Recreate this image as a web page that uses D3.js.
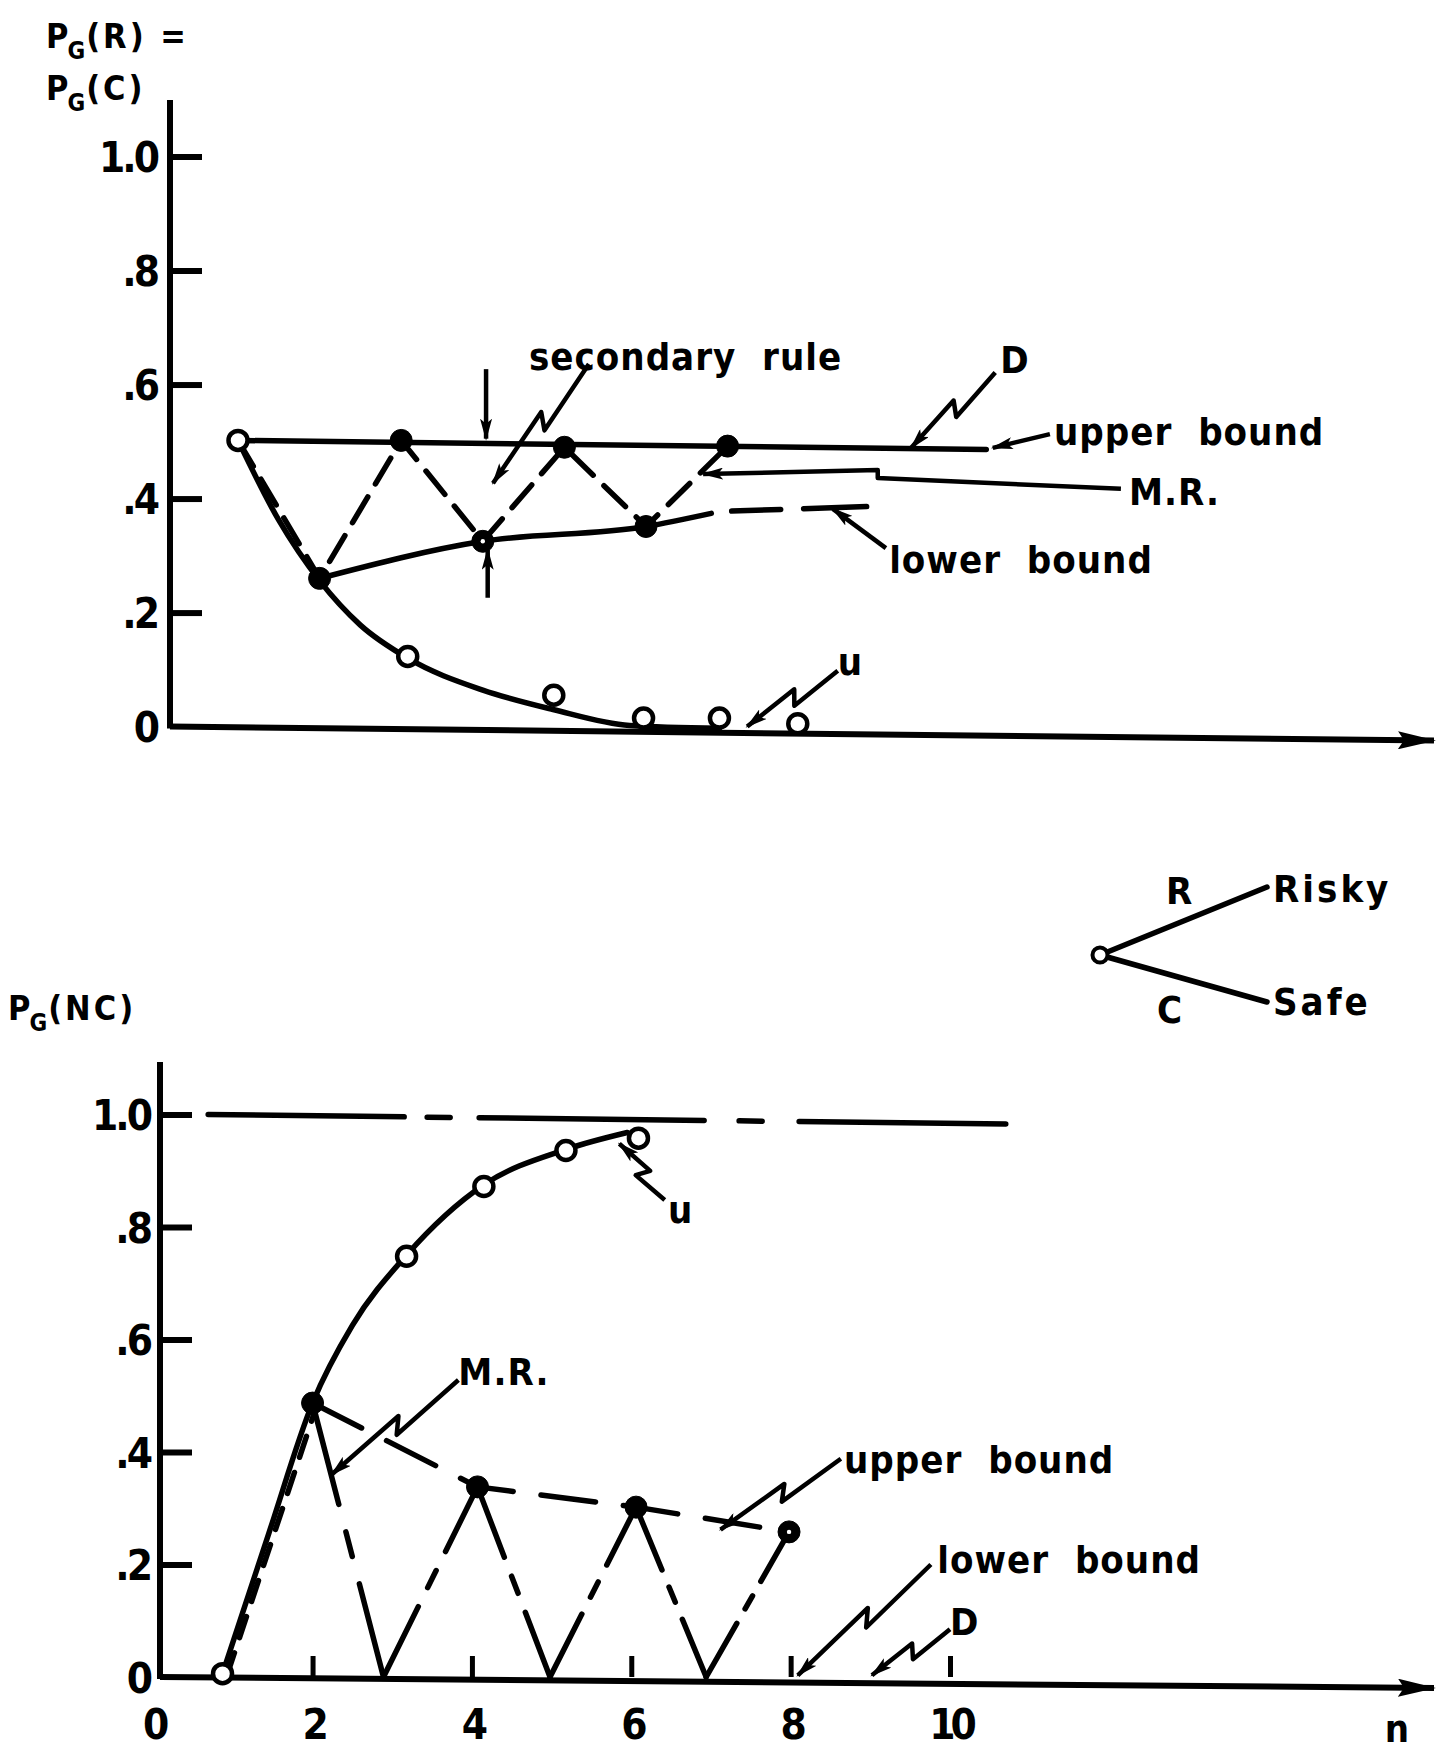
<!DOCTYPE html>
<html>
<head>
<meta charset="utf-8">
<script src="https://cdn.jsdelivr.net/npm/d3@7"></script>
<style>
  body { margin: 0; background: #fff; }
  svg text { font-family: 'DejaVu Sans Condensed', 'DejaVu Sans', sans-serif; font-weight: bold; fill: #000; white-space: pre; }
</style>
</head>
<body>
<svg id="chart" width="1441" height="1753"></svg>
<script>
// values: [n, probability]
const yTicks      = [0, 0.2, 0.4, 0.6, 0.8, 1.0]
const yTickLabels = ['0', '.2', '.4', '.6', '.8', '1.0']
const xTicks      = [0, 2, 4, 6, 8, 10]
const xTickLabels = ['0', '2', '4', '6', '8', '10']

// top panel, PG(R) = PG(C)
const topU          = [[1, 0.502], [1.5, 0.362], [2, 0.256], [2.5, 0.178], [3.08, 0.12], [4, 0.064], [4.86, 0.03], [5.8, 0.002], [6.9, -0.003]]
const topOpen       = [[1, 0.502], [3.08, 0.123], [4.87, 0.055], [5.97, 0.015], [6.9, 0.015], [7.86, 0.005]]
const topFilled     = [[2, 0.26], [3, 0.502], [4, 0.325], [5, 0.49], [6, 0.351], [7, 0.492]]
const topRinged     = [4]
const topUpper      = [[1, 0.502], [10.17, 0.486]]
const topLowerSolid = [[2, 0.26], [4, 0.325], [6, 0.351], [6.8, 0.374]]
const topLowerDash  = [[7.05, 0.378], [8.72, 0.386]]
const topZig        = [[1, 0.502], [2, 0.26], [3, 0.502], [4, 0.325], [5, 0.49], [6, 0.351], [7, 0.492]]

// bottom panel, PG(NC)
const botU       = [[0.87, 0.006], [1.45, 0.255], [2, 0.487], [2.5, 0.625], [3.18, 0.75], [4.15, 0.875], [5.18, 0.938], [5.95, 0.968]]
const botOpen    = [[0.87, 0.006], [3.18, 0.748], [4.15, 0.872], [5.18, 0.936], [6.09, 0.958]]
const botFilled  = [[2, 0.487], [4.07, 0.338], [6.06, 0.302], [7.98, 0.258]]
const botRinged  = [7.98]
const botZig     = [[2, 0.487], [2.89, 0], [4.07, 0.338], [4.98, 0], [6.06, 0.302], [6.94, 0], [7.98, 0.258]]
const botMRStart = [[0.87, 0.006], [2, 0.487]]
const botOne     = [[0.69, 1.0], [10.7, 0.983]]

// labels and pointers, placed in data units of each panel
const topNotes = [
    { text: 'secondary  rule', at: [4.566, 0.625] },
    { text: 'D',               at: [10.34, 0.62] },
    { text: 'upper  bound',    at: [11.0, 0.494] },
    { text: 'M.R.',            at: [11.92, 0.389] },
    { text: 'lower  bound',    at: [8.98, 0.27] },
    { text: 'u',               at: [8.35, 0.091] }
]
const topArrows = [
    { pts: [[4.04, 0.627], [4.04, 0.505]] },
    { pts: [[4.06, 0.226], [4.06, 0.31]] },
    { pts: [[5.30, 0.636], [4.125, 0.427]], zig: true },
    { pts: [[10.28, 0.621], [9.25, 0.489]], zig: true },
    { pts: [[10.95, 0.513], [10.25, 0.489]] },
    { pts: [[11.82, 0.417], [8.84, 0.436], [8.84, 0.45], [6.7, 0.443]] },
    { pts: [[8.94, 0.313], [8.29, 0.382]] },
    { pts: [[8.35, 0.098], [7.24, 0.0]], zig: true }
]
const botNotes = [
    { text: 'M.R.',         at: [3.83, 0.519] },
    { text: 'upper  bound', at: [8.67, 0.363] },
    { text: 'lower  bound', at: [9.84, 0.185] },
    { text: 'D',            at: [10.0, 0.075] },
    { text: 'u',            at: [6.46, 0.807] }
]
const botArrows = [
    { pts: [[3.83, 0.528], [2.24, 0.36]], zig: true },
    { pts: [[8.63, 0.388], [7.12, 0.262]], zig: true },
    { pts: [[9.76, 0.2], [8.09, 0.003]], zig: true },
    { pts: [[10.0, 0.085], [9.02, 0.003]], zig: true },
    { pts: [[6.42, 0.848], [5.85, 0.948]], zig: true }
]

class Figure {

    constructor(){
        this.svg  = d3.select('#chart')
        this.xTop = d3.scaleLinear().domain([1, 8]).range([238, 809.2])
        this.yTop = d3.scaleLinear().domain([0, 1]).range([726.6, 156.5])
        this.xBot = d3.scaleLinear().domain([0, 10]).range([153.2, 950])
        this.yBot = d3.scaleLinear().domain([0, 1]).range([1677, 1114.5])
        this.init_Markers()
    }

    init_Markers(){
        const defs = this.svg.append('defs')
        defs.append('marker')
            .attr('id', 'head').attr('markerUnits', 'userSpaceOnUse')
            .attr('viewBox', '0 0 22 12').attr('markerWidth', 22).attr('markerHeight', 12)
            .attr('refX', 20).attr('refY', 6).attr('orient', 'auto')
            .append('path').attr('d', 'M0,0 L22,6 L0,12 L5,6 Z').attr('fill', '#000')
        defs.append('marker')
            .attr('id', 'axisHead').attr('markerUnits', 'userSpaceOnUse')
            .attr('viewBox', '0 0 38 18').attr('markerWidth', 38).attr('markerHeight', 18)
            .attr('refX', 36).attr('refY', 9).attr('orient', 'auto')
            .append('path').attr('d', 'M0,0 L38,9 L0,18 L6,9 Z').attr('fill', '#000')
    }

    line(x, y, curve){
        return d3.line().x(d => x(d[0])).y(d => y(d[1])).curve(curve || d3.curveLinear)
    }

    draw_Path(data, x, y, opts = {}){
        return this.svg.append('path')
            .attr('d', this.line(x, y, opts.curve)(data))
            .attr('fill', 'none').attr('stroke', '#000')
            .attr('stroke-width', opts.width || 5.5)
            .attr('stroke-linecap', 'round').attr('stroke-linejoin', 'round')
            .attr('stroke-dasharray', opts.dash || null)
            .attr('transform', opts.shift ? `translate(${opts.shift},0)` : null)
    }

    // long dash, short dash, long dash on each leg of a zigzag
    draw_Zig(data, x, y){
        for (let i = 1; i < data.length; i++){
            const a = [x(data[i-1][0]), y(data[i-1][1])]
            const b = [x(data[i][0]), y(data[i][1])]
            const L = Math.hypot(b[0]-a[0], b[1]-a[1])
            const dash = [0.37, 0.1, 0.09, 0.1, 0.4].map(f => (f * L).toFixed(1)).join(',')
            this.draw_Path([data[i-1], data[i]], x, y, { dash: dash })
        }
    }

    draw_Points(data, x, y, filled, ringed = []){
        this.svg.append('g').selectAll('circle').data(data).join('circle')
            .attr('cx', d => x(d[0])).attr('cy', d => y(d[1]))
            .attr('r', filled ? 11 : 9.5)
            .attr('fill', filled ? '#000' : '#fff')
            .attr('stroke', '#000').attr('stroke-width', filled ? 1 : 4.5)
        if (ringed.length){
            this.svg.append('g').selectAll('circle')
                .data(data.filter(d => ringed.includes(d[0]))).join('circle')
                .attr('cx', d => x(d[0])).attr('cy', d => y(d[1]))
                .attr('r', 2.2).attr('fill', '#fff')
        }
    }

    zig_Points(a, b){
        const dx = b[0]-a[0], dy = b[1]-a[1], L = Math.hypot(dx, dy)
        const ux = dx/L, uy = dy/L, px = -uy, py = ux
        const p1 = [a[0] + ux*L*0.52 - px*7, a[1] + uy*L*0.52 - py*7]
        const p2 = [a[0] + ux*L*0.44 + px*7, a[1] + uy*L*0.44 + py*7]
        return [a, p1, p2, b]
    }

    draw_Notes(notes, arrows, x, y){
        notes.forEach(n => {
            this.svg.append('text')
                .attr('x', x(n.at[0])).attr('y', y(n.at[1]))
                .attr('font-size', 38).attr('letter-spacing', 1)
                .text(n.text)
        })
        arrows.forEach(a => {
            let pts = a.pts.map(p => [x(p[0]), y(p[1])])
            if (a.zig) pts = this.zig_Points(pts[0], pts[1])
            this.svg.append('path')
                .attr('d', d3.line()(pts))
                .attr('fill', 'none').attr('stroke', '#000').attr('stroke-width', 4.5)
                .attr('stroke-linejoin', 'round')
                .attr('marker-end', 'url(#head)')
        })
    }

    draw_Axes(x, y, x0, yTopEnd, xEndDrop, withXLabels, labelPad){
        const s = this.svg
        const y0 = y(0)
        s.append('line').attr('x1', x0).attr('x2', x0).attr('y1', yTopEnd).attr('y2', y0 + 2)
            .attr('stroke', '#000').attr('stroke-width', 6)
        s.append('line').attr('x1', x0).attr('x2', 1434).attr('y1', y0).attr('y2', y0 + xEndDrop)
            .attr('stroke', '#000').attr('stroke-width', 6).attr('marker-end', 'url(#axisHead)')

        const yAxis = s.append('g').attr('transform', `translate(${x0},0)`)
            .call(d3.axisLeft(y).tickValues(yTicks).tickFormat((d, i) => yTickLabels[i])
                .tickSizeInner(-32).tickSizeOuter(0).tickPadding(labelPad))
        yAxis.select('.domain').remove()
        yAxis.selectAll('.tick line').attr('stroke-width', 6).filter(d => d === 0).remove()
        yAxis.selectAll('text').attr('font-size', 42).attr('letter-spacing', -3)
            .attr('font-family', null).attr('dy', '0.36em')

        if (withXLabels){
            const xAxis = s.append('g').attr('transform', `translate(0,${y0})`)
                .call(d3.axisBottom(x).tickValues(xTicks).tickFormat((d, i) => xTickLabels[i])
                    .tickSizeInner(-21).tickSizeOuter(0).tickPadding(32))
            xAxis.select('.domain').remove()
            xAxis.selectAll('.tick line').attr('stroke-width', 5).filter(d => d === 0).remove()
            xAxis.selectAll('text').attr('font-size', 42).attr('letter-spacing', -5)
                .attr('font-family', null)
            s.append('text').attr('x', 1397).attr('y', 1742).attr('text-anchor', 'middle')
                .attr('font-size', 38).text('n')
        }
    }

    draw_PG(x, y, rest){
        const t = this.svg.append('text').attr('x', x).attr('y', y)
            .attr('font-size', 34).attr('letter-spacing', 3)
        t.append('tspan').attr('letter-spacing', 0).text('P')
        t.append('tspan').attr('font-size', 24).attr('dx', -1).attr('dy', 11).text('G')
        t.append('tspan').attr('dy', -11).attr('dx', -2).text(rest)
    }

    draw_Top(){
        const x = this.xTop, y = this.yTop
        this.draw_PG(46, 48, '(R) =')
        this.draw_PG(46, 100, '(C)')
        this.draw_Axes(x, y, 170, 100, 14, false, 13)

        this.draw_Path(topU, x, y, { curve: d3.curveMonotoneX })
        this.draw_Path(topUpper, x, y)
        this.draw_Path(topLowerSolid, x, y, { curve: d3.curveMonotoneX })
        this.draw_Path(topLowerDash, x, y, { dash: '49,23,63' })
        this.draw_Path(topZig, x, y, { dash: '30,15' })

        this.draw_Points(topOpen, x, y, false)
        this.draw_Points(topFilled, x, y, true, topRinged)
        this.draw_Notes(topNotes, topArrows, x, y)
    }

    draw_Bottom(){
        const x = this.xBot, y = this.yBot
        this.draw_PG(8, 1020, '(NC)')
        this.draw_Axes(x, y, 160, 1062, 11, true, 10)

        this.draw_Path(botOne, x, y, { dash: '196,23,23,29,225,35,23,37,208' })
        this.draw_Path(botU, x, y, { curve: d3.curveMonotoneX })
        this.draw_Path(botMRStart, x, y, { dash: '22,16', shift: 5 })
        this.draw_Path(botFilled, x, y, { dash: '55,28' })
        this.draw_Zig(botZig, x, y)

        this.draw_Points(botOpen, x, y, false)
        this.draw_Points(botFilled, x, y, true, botRinged)
        this.draw_Notes(botNotes, botArrows, x, y)
    }

    draw_Inset(){
        const s = this.svg
        const c = [1100, 955]
        ;[[1267, 887], [1267, 1002]].forEach(e => {
            s.append('line').attr('x1', c[0]).attr('y1', c[1]).attr('x2', e[0]).attr('y2', e[1])
                .attr('stroke', '#000').attr('stroke-width', 5.5).attr('stroke-linecap', 'round')
        })
        s.append('circle').attr('cx', c[0]).attr('cy', c[1]).attr('r', 7.5)
            .attr('fill', '#fff').attr('stroke', '#000').attr('stroke-width', 4)
        const label = (x, y, t) => s.append('text').attr('x', x).attr('y', y)
            .attr('font-size', 38).attr('letter-spacing', 3).text(t)
        label(1166, 904, 'R')
        label(1273, 902, 'Risky')
        label(1157, 1023, 'C')
        label(1273, 1015, 'Safe')
    }
}

const fig = new Figure()
fig.draw_Top()
fig.draw_Bottom()
fig.draw_Inset()
</script>
</body>
</html>
